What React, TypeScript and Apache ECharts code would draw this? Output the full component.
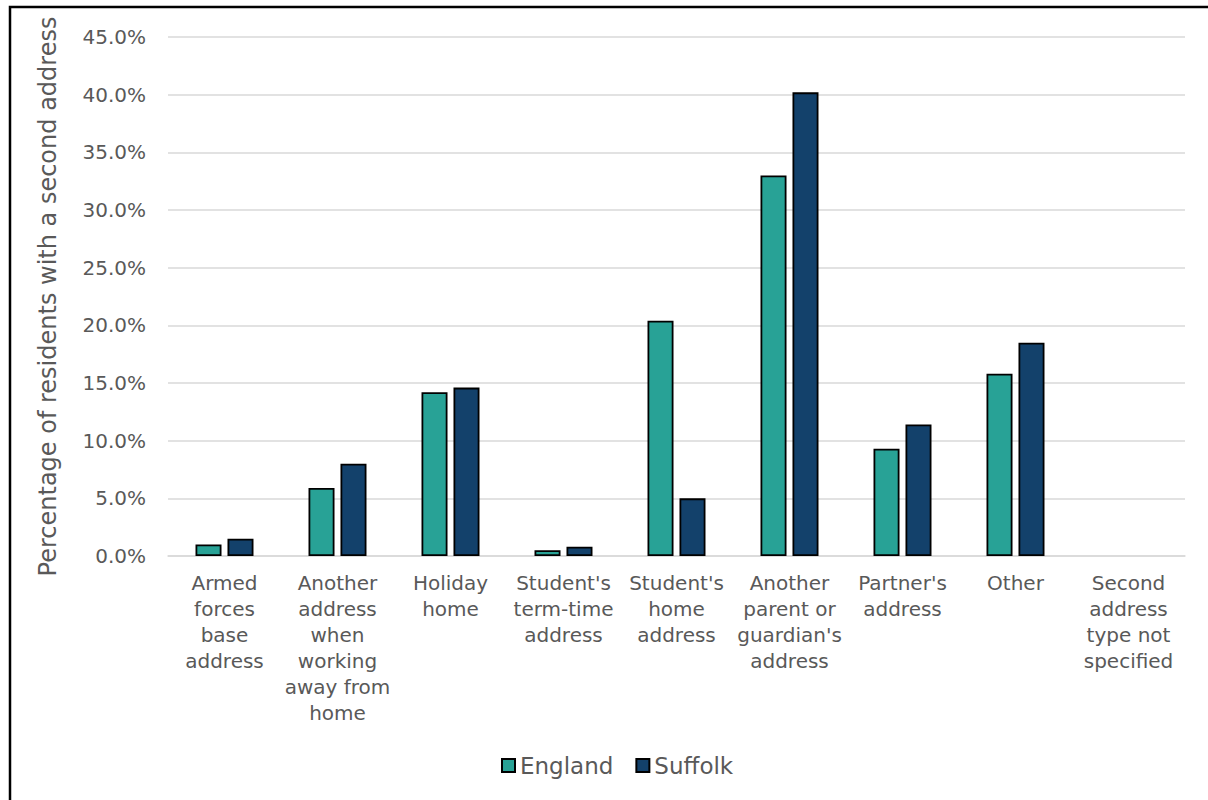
import React, { useEffect, useRef } from "react";
import * as echarts from "echarts";

const categories = [
  "Armed\nforces\nbase\naddress",
  "Another\naddress\nwhen\nworking\naway from\nhome",
  "Holiday\nhome",
  "Student's\nterm-time\naddress",
  "Student's\nhome\naddress",
  "Another\nparent or\nguardian's\naddress",
  "Partner's\naddress",
  "Other",
  "Second\naddress\ntype not\nspecified",
];

const englandValues: (number | null)[] = [1.0, 5.9, 14.2, 0.5, 20.4, 33.0, 9.3, 15.8, null];
const suffolkValues: (number | null)[] = [1.5, 8.0, 14.6, 0.8, 5.0, 40.2, 11.4, 18.5, null];

const seriesNames = ["England", "Suffolk"];
const yAxisTitle = "Percentage of residents with a second address";

const FONT = "DejaVu Sans";
const TEXT = "#595959";

export default function App() {
  const ref = useRef<HTMLDivElement>(null);

  useEffect(() => {
    if (!ref.current) return;
    const chart = echarts.init(ref.current, null, { renderer: "svg" });
    chart.setOption({
      animation: false,
      backgroundColor: "#ffffff",
      textStyle: { fontFamily: FONT, color: TEXT },
      grid: { left: 168, right: 23, top: 37, bottom: 244 },
      legend: {
        bottom: 18,
        left: 496,
        icon: "rect",
        itemWidth: 13,
        itemHeight: 13,
        itemGap: 22,
        textStyle: { fontFamily: FONT, fontSize: 23, color: TEXT },
        data: seriesNames,
      },
      xAxis: {
        type: "category",
        data: categories,
        axisLine: { show: true, lineStyle: { color: "#D9D9D9", width: 1.5 } },
        axisTick: { show: false },
        axisLabel: {
          interval: 0,
          margin: 14,
          fontFamily: FONT,
          fontSize: 20,
          lineHeight: 26,
          color: TEXT,
          align: "center",
        },
      },
      yAxis: {
        type: "value",
        min: 0,
        max: 45,
        interval: 5,
        name: yAxisTitle,
        nameLocation: "middle",
        nameGap: 108,
        nameTextStyle: { fontFamily: FONT, fontSize: 24, color: TEXT },
        axisLine: { show: false },
        axisTick: { show: false },
        axisLabel: {
          margin: 22,
          fontFamily: FONT,
          fontSize: 20,
          color: TEXT,
          formatter: (v: number) => v.toFixed(1) + "%",
        },
        splitLine: { lineStyle: { color: "#D9D9D9", width: 1.5 } },
      },
      series: [
        {
          name: seriesNames[0],
          type: "bar",
          data: englandValues,
          barWidth: 26,
          barGap: "23%",
          itemStyle: { color: "#28A296", borderColor: "#000000", borderWidth: 1.8 },
        },
        {
          name: seriesNames[1],
          type: "bar",
          data: suffolkValues,
          barWidth: 26,
          barGap: "23%",
          itemStyle: { color: "#13416B", borderColor: "#000000", borderWidth: 1.8 },
        },
      ],
      graphic: [
        {
          type: "rect",
          silent: true,
          shape: { x: 10, y: 7, width: 1400, height: 1000 },
          style: { fill: "none", stroke: "#000000", lineWidth: 2.5 },
        },
      ],
    });
    return () => chart.dispose();
  }, []);

  return (
    <div
      ref={ref}
      style={{ position: "absolute", left: 0, top: 0, width: 1208, height: 800 }}
    />
  );
}
